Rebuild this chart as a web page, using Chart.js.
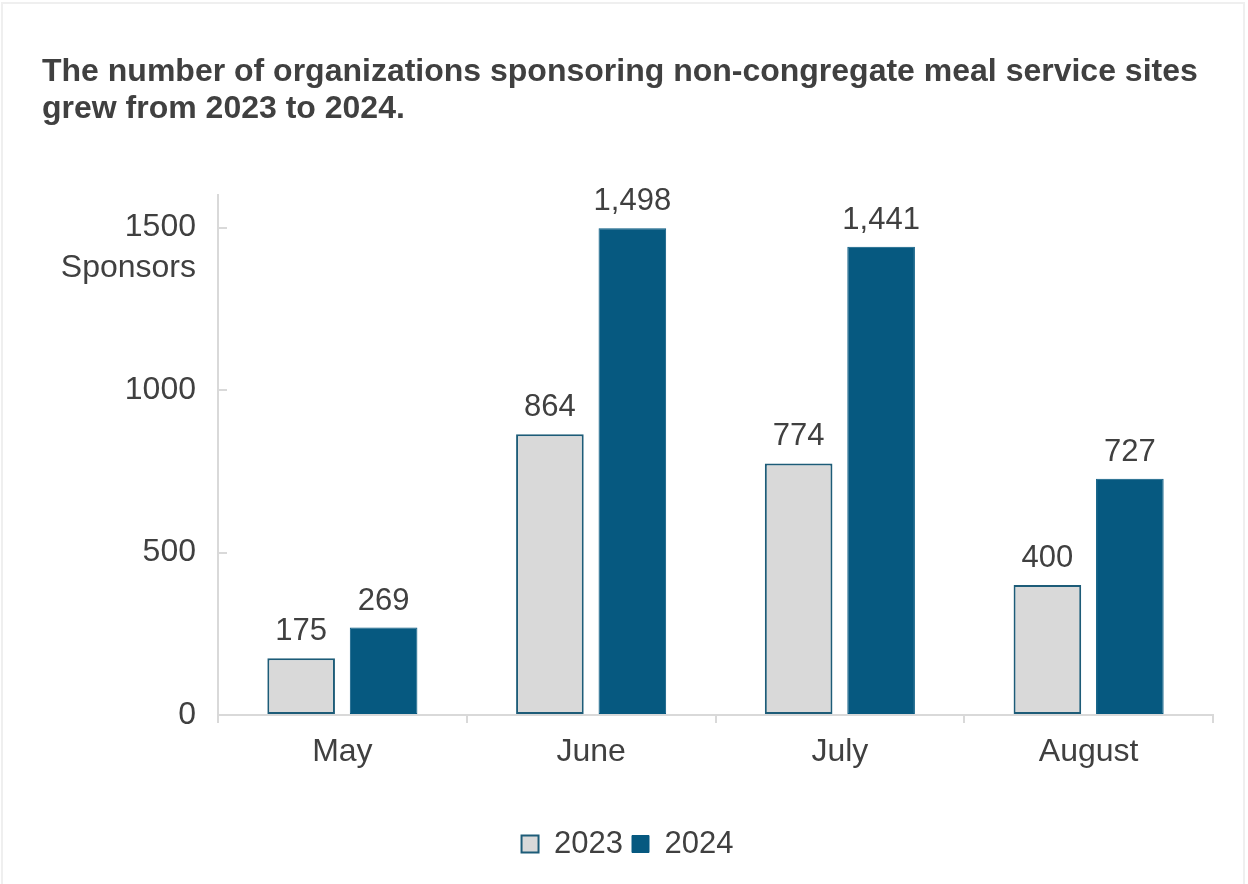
<!DOCTYPE html>
<html>
<head>
<meta charset="utf-8">
<script src="https://cdn.jsdelivr.net/npm/chart.js"></script>
<style>
  html, body { margin: 0; padding: 0; background: #ffffff; }
  #wrap { position: relative; width: 1248px; height: 884px; overflow: hidden; }
  #frame { position: absolute; left: 1px; top: 2px; width: 1244px; height: 900px; border: 2px solid #efefef; box-sizing: border-box; }
  #box { position: absolute; left: 0; top: 0; width: 1248px; height: 884px; }
</style>
</head>
<body>
<div id="wrap">
  <div id="frame"></div>
  <div id="box"><canvas id="sponsorChart"></canvas></div>
</div>
<script>
// chart data
const months = ['May', 'June', 'July', 'August'];
const sponsors2023 = [175, 864, 774, 400];
const sponsors2024 = [269, 1498, 1441, 727];
const yTicks = [0, 500, 1000, 1500];

const textColor = '#404040';
const fontFamily = "'Liberation Sans', Arial, sans-serif";

// draw the value above each bar
const barLabels = {
    id: 'barLabels',
    afterDatasetsDraw(chart) {
        const ctx = chart.ctx;
        ctx.save();
        ctx.font = '31px ' + fontFamily;
        ctx.fillStyle = textColor;
        ctx.textAlign = 'center';
        ctx.textBaseline = 'alphabetic';
        chart.data.datasets.forEach((ds, i) => {
            const meta = chart.getDatasetMeta(i);
            meta.data.forEach((bar, j) => {
                ctx.fillText(ds.data[j].toLocaleString('en-US'), bar.x, bar.y - 18);
            });
        });
        ctx.restore();
    }
};

new Chart(document.getElementById('sponsorChart').getContext('2d'), {
    type: 'bar',
    data: {
        labels: months,
        datasets: [{
            label: '2023',
            data: sponsors2023,
            backgroundColor: '#d9d9d9',
            borderColor: '#1d5c78',
            borderWidth: 2,
            borderSkipped: false
        }, {
            label: '2024',
            data: sponsors2024,
            backgroundColor: '#065980',
            borderColor: '#065980',
            borderWidth: 1,
            borderSkipped: false
        }]
    },
    options: {
        responsive: true,
        maintainAspectRatio: false,
        animation: false,
        categoryPercentage: 0.663,
        barPercentage: 0.82,
        layout: {
            padding: { left: 42, right: 35, top: 0, bottom: 14.5 }
        },
        plugins: {
            title: {
                display: true,
                align: 'start',
                text: ['The number of organizations sponsoring non-congregate meal service sites',
                       'grew from 2023 to 2024.'],
                color: textColor,
                font: { family: fontFamily, size: 32, weight: 'bold', lineHeight: 1.15 },
                padding: { top: 54, bottom: 67.4 }
            },
            legend: {
                position: 'bottom',
                labels: {
                    color: textColor,
                    font: { family: fontFamily, size: 31 },
                    boxWidth: 17,
                    boxHeight: 17,
                    padding: 9
                }
            },
            tooltip: { enabled: false }
        },
        scales: {
            x: {
                grid: {
                    drawOnChartArea: false,
                    color: '#d9d9d9',
                    lineWidth: 2,
                    tickLength: 8
                },
                border: { color: '#d9d9d9', width: 2 },
                ticks: {
                    color: textColor,
                    font: { family: fontFamily, size: 32 },
                    padding: 10
                },
                afterFit: function(scale) { scale.height = 104.5; }
            },
            y: {
                min: 0,
                max: 1600,
                grid: {
                    drawOnChartArea: false,
                    color: '#d9d9d9',
                    lineWidth: 2,
                    tickLength: -9
                },
                border: { color: '#d9d9d9', width: 2 },
                ticks: {
                    stepSize: 500,
                    color: textColor,
                    font: { family: fontFamily, size: 32, lineHeight: 1.28 },
                    padding: 31,
                    callback: function(value) {
                        if (value === 1500) return ['', '1500', 'Sponsors'];
                        return String(value);
                    }
                },
                afterBuildTicks: function(scale) {
                    scale.ticks = yTicks.map(v => ({ value: v }));
                },
                afterFit: function(scale) { scale.width = 176; }
            }
        }
    },
    plugins: [barLabels]
});
</script>
</body>
</html>
